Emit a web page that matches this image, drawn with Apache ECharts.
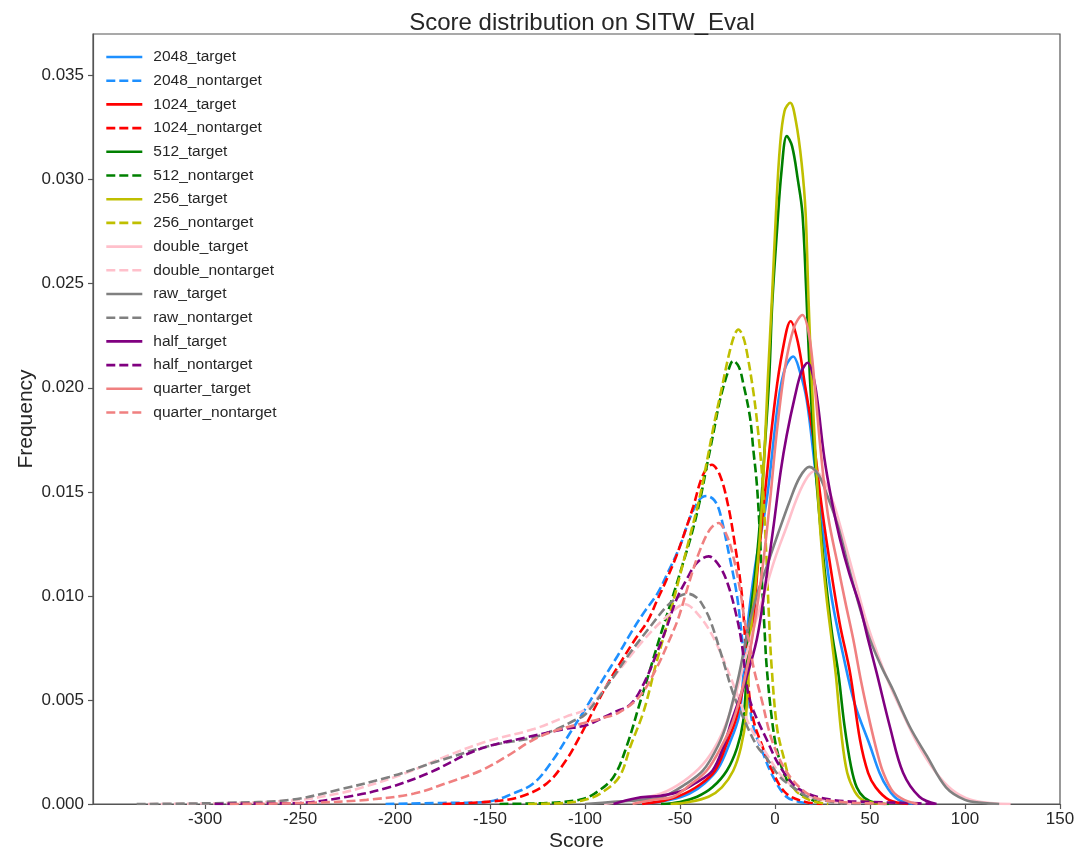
<!DOCTYPE html>
<html>
<head>
<meta charset="utf-8">
<script src="https://cdn.jsdelivr.net/npm/echarts@6/dist/echarts.min.js"></script>
<style>
  html, body { margin: 0; padding: 0; background: #ffffff; }
  #chart { width: 1076px; height: 849px; }
</style>
</head>
<body>
<div id="chart"></div>
<script>
// Tick positions
const xTicks = [-300, -250, -200, -150, -100, -50, 0, 50, 100, 150];
const yTicks = [0, 0.005, 0.01, 0.015, 0.02, 0.025, 0.03, 0.035];

// Density curves: [score, frequency]
const target2048 = [[-70,0],[-55,0.0002],[-45,0.0005],[-37,0.001],[-30,0.0017],[-24,0.0029],[-19,0.0042],[-17,0.0058],[-14.9,0.0082],[-10.5,0.0114],[-4.4,0.0146],[1.8,0.0194],[5.5,0.021],[9.6,0.0215],[13,0.0208],[16.7,0.0194],[21,0.0162],[26,0.0125],[30,0.0098],[36,0.0071],[42,0.0048],[50,0.0028],[55,0.0015],[59,0.0008],[65,0.0002],[75,0]];
const nontarget2048 = [[-205,0],[-175,0.00005],[-152,0.0001],[-138,0.0005],[-127,0.001],[-117,0.0021],[-108,0.0034],[-99,0.0047],[-90.5,0.006],[-83,0.0071],[-76,0.0082],[-69,0.0092],[-62,0.0101],[-56,0.0112],[-50,0.0124],[-45,0.0137],[-40,0.0146],[-36,0.0148],[-32,0.0146],[-29,0.014],[-24,0.0119],[-20,0.01],[-16.7,0.0074],[-14,0.0052],[-11.4,0.0037],[-7,0.0026],[-1,0.0013],[6,0.00035],[13,0.0001],[20,0]];
const target1024 = [[-70,0],[-59,0.00015],[-50,0.0004],[-40,0.0009],[-31.6,0.0016],[-25,0.003],[-20.2,0.0042],[-16,0.006],[-12,0.0082],[-9,0.0115],[-5,0.0152],[0,0.0194],[4,0.0218],[8.2,0.0232],[12,0.0222],[16,0.02],[20,0.0177],[24,0.0147],[28,0.0121],[34,0.0087],[39.5,0.0063],[44.7,0.0031],[49,0.0015],[53,0.0008],[60,0.0002],[70,0]];
const nontarget1024 = [[-175,0],[-152,0.0001],[-134,0.00035],[-120,0.001],[-110,0.0021],[-103,0.0032],[-95,0.0046],[-88,0.0058],[-80,0.007],[-73,0.008],[-67,0.0088],[-62,0.0098],[-57,0.0108],[-52,0.0119],[-47,0.0132],[-43,0.0143],[-38,0.0158],[-33.3,0.0163],[-29,0.0158],[-24.6,0.0143],[-21,0.0124],[-17.5,0.0101],[-15.5,0.0076],[-13.5,0.0052],[-11,0.0039],[-8,0.0031],[-1,0.0015],[6,0.0005],[16,0.0001],[25,0]];
const target512 = [[-60,0],[-50,0.0001],[-41,0.00035],[-33,0.0008],[-25.4,0.0016],[-20,0.0027],[-16.7,0.004],[-14.9,0.0064],[-13.2,0.0089],[-10.5,0.011],[-8,0.0135],[-5.5,0.017],[-3,0.0206],[-1.5,0.024],[1,0.0275],[3.5,0.0305],[6.2,0.0321],[9,0.0316],[12,0.03],[14.4,0.0284],[16.5,0.0245],[18.4,0.0204],[21,0.0165],[24,0.0132],[27,0.0105],[30,0.0082],[33.3,0.0063],[36.5,0.0038],[40,0.0018],[43,0.0008],[47,0.0003],[53,0.00005],[60,0]];
const nontarget512 = [[-145,0],[-120,0.00005],[-103,0.0002],[-95,0.0005],[-85,0.0013],[-78,0.0028],[-71,0.0049],[-66,0.0064],[-60,0.0082],[-54.4,0.0098],[-49,0.0114],[-43.8,0.013],[-39.5,0.0146],[-36,0.0162],[-32.5,0.0178],[-29,0.0194],[-25,0.0207],[-22,0.0213],[-19,0.021],[-16.7,0.0202],[-13.2,0.0186],[-11.4,0.017],[-9.6,0.0154],[-8,0.013],[-6.8,0.0105],[-5.6,0.0085],[-4.4,0.0066],[-1.8,0.0042],[1,0.0026],[6,0.0012],[12,0.0006],[17,0.0003],[25,0]];
const target256 = [[-55,0],[-45,0.0001],[-35,0.00035],[-28,0.0008],[-22,0.0016],[-18,0.0027],[-15.3,0.0042],[-12.5,0.0085],[-10,0.0108],[-8,0.0128],[-6,0.016],[-3.8,0.0204],[-1.5,0.0245],[0.5,0.0284],[2.6,0.0316],[5,0.0333],[8,0.0337],[11,0.0328],[14,0.0308],[16.1,0.0284],[17.6,0.0243],[19.3,0.0204],[21.5,0.0165],[24.2,0.0127],[27,0.01],[29.8,0.0079],[32,0.0062],[35,0.0033],[38,0.0015],[42,0.0006],[46,0.0002],[52,0.00005],[58,0]];
const nontarget256 = [[-130,0],[-110,0.00005],[-100,0.0002],[-92,0.0005],[-82,0.0013],[-76,0.0028],[-69,0.0045],[-63,0.0066],[-56,0.0089],[-50,0.011],[-45,0.0128],[-40,0.0146],[-36,0.0164],[-32,0.0183],[-28,0.02],[-24.5,0.0215],[-21.5,0.0225],[-19.3,0.0228],[-17,0.0225],[-15,0.0218],[-11.4,0.0198],[-8.8,0.0178],[-6.5,0.0154],[-4.6,0.012],[-3.2,0.009],[-1.8,0.0066],[1,0.0037],[4.4,0.0023],[9.6,0.0008],[18,0.0002],[28,0]];
const targetDouble = [[-90,0],[-75,0.0002],[-60,0.0005],[-48,0.0011],[-38,0.0019],[-30,0.003],[-24,0.0043],[-18,0.0062],[-12,0.0082],[-6,0.01],[0,0.0118],[6,0.0133],[12,0.0148],[17,0.0157],[21,0.016],[26,0.0155],[31,0.0144],[36,0.0128],[42,0.0108],[48,0.0088],[54,0.0072],[60,0.0058],[67,0.0044],[75,0.0029],[84,0.0016],[93,0.0007],[103,0.0002],[113,0.00005],[124,0]];
const nontargetDouble = [[-330,0],[-285,0.00005],[-250,0.0002],[-230,0.0005],[-217,0.0008],[-194,0.0015],[-173,0.0023],[-152,0.003],[-127,0.0036],[-110,0.0042],[-99,0.0046],[-85,0.0061],[-69,0.0079],[-57,0.009],[-47.5,0.0096],[-39.5,0.009],[-33,0.0081],[-27,0.0069],[-20,0.0053],[-13,0.0037],[-4.4,0.0024],[3,0.0014],[10,0.0008],[17,0.0004],[25,0.0002],[35,0.00005],[45,0]];
const targetRaw = [[-100,0],[-85,0.0001],[-70,0.0002],[-59,0.00035],[-48,0.0009],[-38,0.0016],[-30,0.0028],[-25,0.004],[-19,0.0062],[-14,0.0085],[-9,0.0102],[-4.4,0.0114],[1.6,0.013],[7.9,0.0146],[13,0.0157],[18,0.0162],[23,0.0158],[28,0.0147],[33,0.0134],[39,0.0113],[45,0.0093],[50,0.0079],[56,0.0066],[62,0.0055],[71,0.0037],[80,0.0023],[90,0.0008],[100,0.0002],[110,0.00005],[118,0]];
const nontargetRaw = [[-336,0],[-290,0.00005],[-255,0.0002],[-229,0.0007],[-203,0.0013],[-176,0.0021],[-150,0.0028],[-127,0.0032],[-115,0.0036],[-106,0.004],[-100,0.0043],[-89,0.0056],[-76,0.0073],[-65,0.0086],[-57,0.0095],[-50,0.01],[-45.6,0.0101],[-41,0.0099],[-37.7,0.0095],[-34,0.0088],[-28,0.0071],[-22,0.0053],[-16,0.004],[-9.6,0.0028],[-4.4,0.0022],[2.6,0.0013],[9.6,0.0008],[16,0.0004],[24,0.0002],[35,0.00005],[45,0]];
const targetHalf = [[-85,0],[-72,0.0003],[-60,0.0004],[-50,0.0006],[-42,0.001],[-33,0.0016],[-27,0.0028],[-22.8,0.004],[-16,0.0058],[-9.6,0.0079],[-5,0.0106],[-1,0.0132],[3,0.016],[6.1,0.0177],[10.5,0.0196],[14,0.0208],[17.2,0.0212],[20,0.0206],[22.3,0.0194],[26,0.0166],[30,0.0145],[34,0.0128],[39,0.0111],[44.7,0.0095],[49,0.0079],[53.5,0.0063],[60.5,0.0037],[67.4,0.0015],[76,0.00035],[85,0]];
const nontargetHalf = [[-295,0],[-260,0.00003],[-250,0.00005],[-225,0.00035],[-203,0.0008],[-182,0.0015],[-162,0.0024],[-150,0.0028],[-131,0.0032],[-111,0.0036],[-99,0.0038],[-85,0.0044],[-76,0.0048],[-69,0.0058],[-62,0.0073],[-57,0.0085],[-52,0.0098],[-46.5,0.0108],[-41,0.0116],[-35,0.0119],[-29,0.0114],[-24.6,0.0105],[-20.2,0.009],[-17.5,0.0077],[-14.5,0.0055],[-11.4,0.0045],[-4.4,0.0031],[2.6,0.0018],[13,0.0007],[30,0.0002],[50,0.0001],[70,0.00005],[85,0]];
const targetQuarter = [[-75,0],[-64,0.0002],[-53.6,0.00035],[-45,0.0009],[-36,0.0016],[-28,0.0028],[-22,0.004],[-16,0.006],[-11.6,0.0082],[-6.5,0.0114],[-2.6,0.0146],[0.9,0.01785],[5.3,0.021],[10,0.0229],[14.4,0.0235],[18,0.0225],[21,0.02],[24,0.017],[28,0.0138],[33,0.0115],[37,0.0097],[41.2,0.0079],[45.5,0.0058],[50,0.0039],[54,0.0024],[57,0.0015],[62,0.0006],[68,0.0002],[75,0]];
const nontargetQuarter = [[-287,0],[-246,0.00005],[-215,0.0002],[-190,0.0005],[-173,0.001],[-155,0.0016],[-141,0.0023],[-127,0.0031],[-113,0.0036],[-100,0.0039],[-92,0.0041],[-82,0.0044],[-71,0.0052],[-62,0.0066],[-56,0.0078],[-51,0.0089],[-44.7,0.0108],[-39.5,0.0122],[-34.2,0.0132],[-29.8,0.0135],[-25.4,0.0129],[-22,0.0119],[-18.4,0.0103],[-15.8,0.0087],[-13.2,0.0076],[-11.4,0.0066],[-7,0.005],[-1,0.0029],[8,0.0013],[20,0.00035],[35,0.0001],[50,0.00003],[60,0]];

const seriesNames = ['2048_target','2048_nontarget','1024_target','1024_nontarget','512_target','512_nontarget','256_target','256_nontarget','double_target','double_nontarget','raw_target','raw_nontarget','half_target','half_nontarget','quarter_target','quarter_nontarget'];
const seriesValues = [target2048, nontarget2048, target1024, nontarget1024, target512, nontarget512, target256, nontarget256, targetDouble, nontargetDouble, targetRaw, nontargetRaw, targetHalf, nontargetHalf, targetQuarter, nontargetQuarter];

const palette = ['#1e90ff','#1e90ff','#ff0000','#ff0000','#008000','#008000','#bfbf00','#bfbf00','#ffc0cb','#ffc0cb','#808080','#808080','#800080','#800080','#f08080','#f08080'];

const FONT = '"Liberation Sans", Arial, sans-serif';
const TEXT = '#262626';
const FRAME = '#555555';

const chart = echarts.init(document.getElementById('chart'), null, { renderer: 'canvas' });

const series = seriesNames.map((name, i) => ({
  name: name,
  type: 'line',
  data: seriesValues[i],
  smooth: 0.35,
  symbol: 'none',
  showSymbol: false,
  silent: true,
  animation: false,
  lineStyle: {
    color: palette[i],
    width: 2.6,
    type: name.endsWith('nontarget') ? [9, 4] : 'solid'
  },
  itemStyle: { color: palette[i] }
}));

chart.setOption({
  animation: false,
  backgroundColor: '#ffffff',
  title: {
    text: 'Score distribution on SITW_Eval',
    left: 577,
    textAlign: 'center',
    top: 6,
    textStyle: { fontFamily: FONT, fontSize: 24, fontWeight: 'normal', color: TEXT }
  },
  legend: {
    orient: 'vertical',
    left: 105,
    top: 49,
    itemWidth: 36,
    itemHeight: 14,
    itemGap: 7.7,
    padding: 0,
    itemStyle: { opacity: 0 },
    lineStyle: { width: 2.6 },
    textStyle: { fontFamily: FONT, fontSize: 15.5, color: TEXT, padding: [0, 0, 0, 6] },
    data: seriesNames
  },
  grid: {
    left: 93, right: 16, top: 34, bottom: 45,
    outerBoundsMode: 'none',
    containLabel: false,
    show: true, borderColor: FRAME, borderWidth: 1.2, backgroundColor: 'transparent'
  },
  xAxis: {
    type: 'value',
    min: -359,
    max: 150,
    name: 'Score',
    nameLocation: 'middle',
    nameGap: 27,
    nameMoveOverlap: false,
    nameTextStyle: { fontFamily: FONT, fontSize: 21, color: TEXT },
    axisLine: { show: true, onZero: false, lineStyle: { color: FRAME, width: 1.2 } },
    axisTick: { show: true, inside: false, length: 5, customValues: xTicks, lineStyle: { color: FRAME, width: 1.2 } },
    axisLabel: { customValues: xTicks, margin: 7, fontFamily: FONT, fontSize: 17, color: TEXT },
    splitLine: { show: false }
  },
  yAxis: {
    type: 'value',
    min: 0,
    max: 0.037,
    name: 'Frequency',
    nameLocation: 'middle',
    nameGap: 56,
    nameMoveOverlap: false,
    nameRotate: 90,
    nameTextStyle: { fontFamily: FONT, fontSize: 21, color: TEXT },
    axisLine: { show: true, onZero: false, lineStyle: { color: FRAME, width: 1.2 } },
    axisTick: { show: true, inside: false, length: 5, customValues: yTicks, lineStyle: { color: FRAME, width: 1.2 } },
    axisLabel: {
      customValues: yTicks, margin: 9, fontFamily: FONT, fontSize: 17, color: TEXT,
      formatter: v => v.toFixed(3)
    },
    splitLine: { show: false }
  },
  series: series
});
</script>
</body>
</html>
